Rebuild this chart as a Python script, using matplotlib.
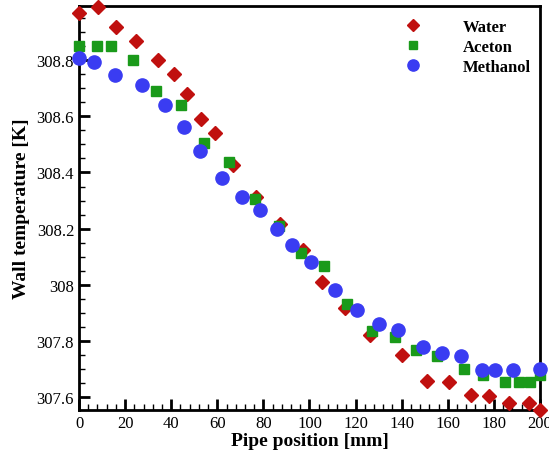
import numpy as np
import matplotlib
matplotlib.use('Agg')
import matplotlib.pyplot as plt
from matplotlib.ticker import MultipleLocator

# data
water_x = [0, 8.4, 16, 24.6, 34.3, 41.2, 46.9, 53, 58.8, 66.7, 76.9, 87.2, 97.3,
           105.6, 115.4, 126.2, 140.1, 150.8, 160.5, 169.9, 178, 186.6, 195.1, 200]
water_y = [308.968, 308.99, 308.917, 308.87, 308.80, 308.751, 308.68, 308.592, 308.542,
           308.426, 308.312, 308.218, 308.124, 308.01, 307.917, 307.82, 307.75, 307.657,
           307.655, 307.606, 307.604, 307.58, 307.58, 307.553]

aceton_x = [0, 7.7, 13.9, 23.6, 33.6, 44.3, 54.1, 64.9, 76.5, 86.9, 96.5, 106.3,
            116.1, 127, 137.1, 146.1, 155.4, 166.9, 175.4, 184.8, 190.9, 195.7, 200]
aceton_y = [308.849, 308.849, 308.849, 308.802, 308.689, 308.64, 308.505, 308.436,
            308.304, 308.21, 308.115, 308.066, 307.93, 307.836, 307.814, 307.768,
            307.746, 307.699, 307.677, 307.655, 307.655, 307.655, 307.677]

methanol_x = [0, 6.4, 15.8, 27.2, 37.1, 45.4, 52.6, 62.2, 70.7, 78.5, 86.0, 92.5,
              100.5, 111.2, 120.8, 130.1, 138.6, 149.4, 157.5, 165.6, 174.7, 180.5,
              188.4, 200]
methanol_y = [308.808, 308.795, 308.747, 308.712, 308.641, 308.561, 308.476, 308.38,
              308.314, 308.268, 308.2, 308.14, 308.08, 307.98, 307.91, 307.86, 307.84,
              307.78, 307.757, 307.746, 307.698, 307.698, 307.698, 307.70]

serif = ['Liberation Serif', 'DejaVu Serif']

fig = plt.figure(figsize=(5.49, 4.56), dpi=100)
ax = fig.add_axes([0.1439, 0.0987, 0.8397, 0.8859])

ax.plot(water_x, water_y, 'D', color='#c0100f', markersize=7, label='Water', clip_on=False, zorder=3)
ax.plot(aceton_x, aceton_y, 's', color='#1a9a1a', markersize=7, label='Aceton', clip_on=False, zorder=3)
ax.plot(methanol_x, methanol_y, 'o', color='#3a3cf2', markersize=9.5, label='Methanol', clip_on=False, zorder=3)

ax.set_xlim(0, 200)
ax.set_ylim(307.554, 308.993)
ax.xaxis.set_major_locator(MultipleLocator(20))
ax.xaxis.set_minor_locator(MultipleLocator(4))
ax.yaxis.set_major_locator(MultipleLocator(0.2))
ax.yaxis.set_minor_locator(MultipleLocator(0.05))
ax.yaxis.set_major_formatter(plt.FuncFormatter(lambda v, p: '%g' % round(v, 1)))
ax.tick_params(which='both', direction='in', top=False, right=False)
ax.tick_params(which='major', length=8, width=2)
ax.tick_params(which='minor', length=4, width=1)
for lab in ax.get_xticklabels() + ax.get_yticklabels():
    lab.set_family(serif)
    lab.set_fontsize(12)
for s in ax.spines.values():
    s.set_linewidth(2)

ax.set_xlabel('Pipe position [mm]', family=serif, fontweight='bold', fontsize=14, labelpad=1)
ax.set_ylabel('Wall temperature [K]', family=serif, fontweight='bold', fontsize=14, labelpad=5)

leg = ax.legend(loc='upper right', bbox_to_anchor=(1.0, 0.99), frameon=False,
                prop={'family': serif, 'weight': 'bold', 'size': 12},
                handletextpad=2.0, labelspacing=0.22, borderaxespad=0.15, markerscale=0.85)

fig.savefig('out.png', dpi=100)
